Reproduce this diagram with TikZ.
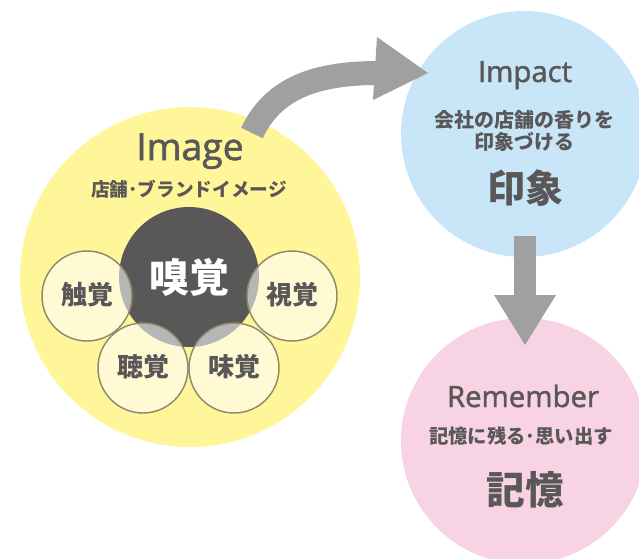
\documentclass[tikz,border=0pt]{standalone}
\usepackage{fontspec}
\setmainfont{Open Sans}[FakeBold=1.5]
\newfontfamily\jp{Noto Sans CJK JP}
\definecolor{ylw}{HTML}{FFF599}
\definecolor{blu}{HTML}{C8E6F8}
\definecolor{pnk}{HTML}{F8D3E4}
\definecolor{dk}{HTML}{595757}
\definecolor{arr}{HTML}{9FA0A0}
\definecolor{rim}{HTML}{8E8A6B}
\tikzset{
  big/.style={circle, inner sep=0pt, minimum size=#1},
  sense/.style={circle, inner sep=0pt, minimum size=67.5pt, fill=white, fill opacity=0.57, draw=rim, draw opacity=1, line width=1.1pt},
  eng/.style={text=dk, inner sep=0pt, font=\fontsize{#1}{#1}\selectfont},
  jtx/.style={text=dk, inner sep=0pt, font=\jp\bfseries\fontsize{#1}{#1}\selectfont},
  jbd/.style={text=dk, inner sep=0pt, font=\jp\bfseries\fontsize{#1}{#1}\selectfont},
}
\begin{document}
\begin{tikzpicture}[x=0.75pt,y=-0.75pt]
\useasboundingbox (0,0) rectangle (639,558);
% main circles
\node[big=255pt, fill=ylw] (img) at (190,277) {};
\node[big=184.5pt, fill=blu] (imp) at (524,134) {};
\node[big=184.5pt, fill=pnk] (rem) at (524,441) {};
% smell
\node[big=105pt, fill=dk] (smell) at (189,277) {};
\node[sense] (touch) at (87,296) {};
\node[sense] (sight) at (292,296) {};
\node[sense] (hear) at (143,368) {};
\node[sense] (taste) at (234,368) {};
% texts image
\node[eng=28pt, anchor=base] (imgt) at (190,160) {Image};
\node[jtx=14pt] (imgs) at (189,189) {店舗･ブランドイメージ};
\node[jbd=30pt, text=white] at (smell.center) {嗅覚};
\node[jbd=19.5pt] at ([yshift=0.75pt]touch.center) {触覚};
\node[jbd=19.5pt] at ([yshift=0.75pt]sight.center) {視覚};
\node[jbd=19.5pt] at ([yshift=0.75pt]hear.center) {聴覚};
\node[jbd=19.5pt] at ([yshift=0.75pt]taste.center) {味覚};
% texts impact
\node[eng=22pt, anchor=base] (impt) at (525,82) {Impact};
\node[jtx=15pt] at (524,120) {会社の店舗の香りを};
\node[jtx=15pt] at (524,142) {印象づける};
\node[jbd=28.5pt] at (525,188) {印象};
% texts remember
\node[eng=22pt, anchor=base] (remt) at (523,407) {Remember};
\node[jtx=14.5pt] at (521,436) {記憶に残る･思い出す};
\node[jbd=29pt] at (525,490) {記憶};
% curved arrow
\coordinate (ca) at (252,133);
\coordinate (cb) at (378,73);
\draw[arr, line width=18pt] (ca) .. controls (273,88) and (316,73) .. (cb);
\fill[arr] (377,37) -- (428,73) -- (373,100) -- cycle;
% down arrow
\coordinate (da) at (525,236);
\coordinate (db) at (525,296);
\draw[arr, line width=16.5pt] (da) -- (db);
\fill[arr] (494,295) -- (556,295) -- (525,345) -- cycle;
\end{tikzpicture}
\end{document}
